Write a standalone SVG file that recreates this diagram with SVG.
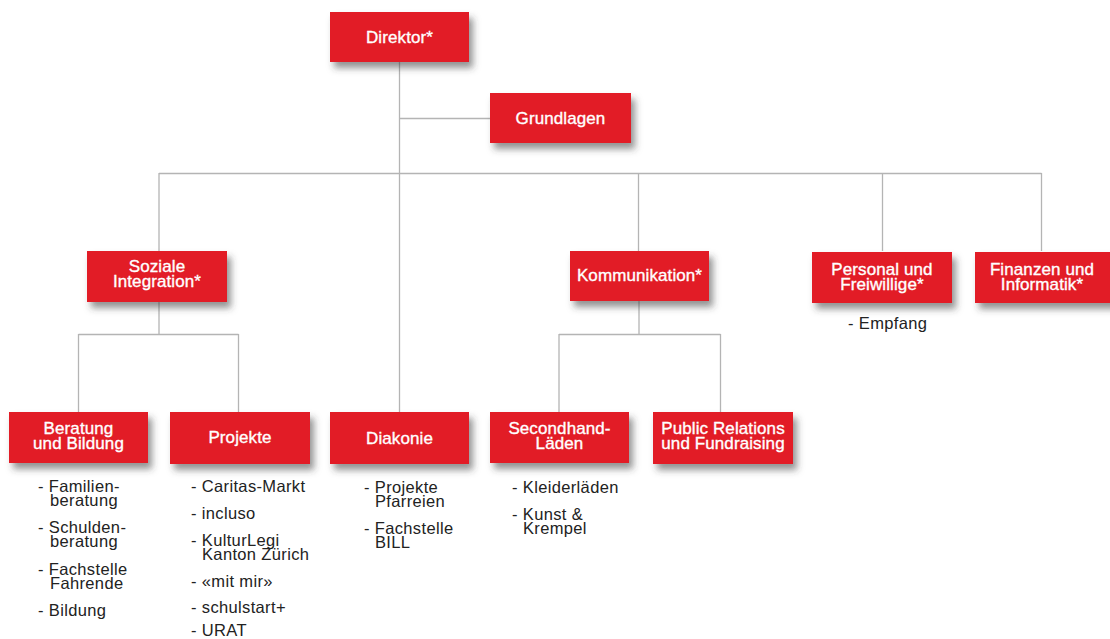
<svg xmlns="http://www.w3.org/2000/svg" width="1110" height="639" viewBox="0 0 1110 639">
<defs>
<filter id="sh" x="-20%" y="-20%" width="150%" height="170%">
<feDropShadow dx="4" dy="6" stdDeviation="3.5" flood-color="#3a3a3a" flood-opacity="0.55"/>
</filter>
<style>
.box{fill:#e21e27;filter:url(#sh)}
.bt{font-family:"Liberation Sans",Arial,sans-serif;font-size:17px;letter-spacing:0.1px;fill:#fff;stroke:#fff;stroke-width:0.35;text-anchor:middle}
.lt{font-family:"Liberation Sans",Arial,sans-serif;font-size:16.5px;letter-spacing:0.35px;fill:#222}
.ln{stroke:#b4b4b4;stroke-width:1.3;fill:none}
</style>
</defs>
<rect width="1110" height="639" fill="#fff"/>
<g id="connectors">
<path class="ln" d="M399.5 62V412M399.5 118.5H490M159 173.5H1041.5M159 173V251M638.5 173V251M882.5 173V251M1041.5 173V251"/>
<path class="ln" d="M159 302V334.5M78.5 334.5H238.5M78.5 334V412M238.5 334V412"/>
<path class="ln" d="M639 301V334.5M559 334.5H720.5M559 334V412M720.5 334V412"/>
</g>
<g id="direktor"><rect class="box" x="330" y="12" width="139" height="50"/><text class="bt" x="399.5" y="43">Direktor*</text></g>
<g id="grundlagen"><rect class="box" x="490" y="93" width="141" height="50"/><text class="bt" x="560.5" y="124">Grundlagen</text></g>
<g id="soziale"><rect class="box" x="87" y="251" width="140" height="51"/><text class="bt" x="157" y="272">Soziale<tspan x="157" dy="14.5">Integration*</tspan></text></g>
<g id="kommunikation"><rect class="box" x="570" y="251" width="139" height="50"/><text class="bt" x="639.5" y="281">Kommunikation*</text></g>
<g id="personal"><rect class="box" x="812" y="252" width="140" height="51"/><text class="bt" x="882" y="275">Personal und<tspan x="882" dy="14.5">Freiwillige*</tspan></text><text class="lt" x="848" y="329">- Empfang</text></g>
<g id="finanzen"><rect class="box" x="975" y="252" width="140" height="51"/><text class="bt" x="1042" y="275">Finanzen und<tspan x="1042" dy="14.5">Informatik*</tspan></text></g>
<g id="beratung"><rect class="box" x="9" y="412" width="139" height="51"/><text class="bt" x="78.5" y="434">Beratung<tspan x="78.5" dy="14.5">und Bildung</tspan></text>
<text class="lt" x="38" y="492">- Familien-<tspan x="50" dy="14">beratung</tspan></text>
<text class="lt" x="38" y="533">- Schulden-<tspan x="50" dy="14">beratung</tspan></text>
<text class="lt" x="38" y="575">- Fachstelle<tspan x="50" dy="14">Fahrende</tspan></text>
<text class="lt" x="38" y="616">- Bildung</text></g>
<g id="projekte"><rect class="box" x="170" y="412" width="140" height="52"/><text class="bt" x="240" y="443">Projekte</text>
<text class="lt" x="191" y="492">- Caritas-Markt</text>
<text class="lt" x="191" y="519">- incluso</text>
<text class="lt" x="191" y="546">- KulturLegi<tspan x="202" dy="14">Kanton Zürich</tspan></text>
<text class="lt" x="191" y="587">- «mit mir»</text>
<text class="lt" x="191" y="613">- schulstart+</text>
<text class="lt" x="191" y="636">- URAT</text></g>
<g id="diakonie"><rect class="box" x="330" y="412" width="139" height="52"/><text class="bt" x="399.5" y="444">Diakonie</text>
<text class="lt" x="364" y="493">- Projekte<tspan x="375" dy="14">Pfarreien</tspan></text>
<text class="lt" x="364" y="534">- Fachstelle<tspan x="375" dy="14">BILL</tspan></text></g>
<g id="secondhand"><rect class="box" x="490" y="412" width="139" height="51"/><text class="bt" x="559.5" y="434">Secondhand-<tspan x="559.5" dy="14.5">Läden</tspan></text>
<text class="lt" x="512" y="493">- Kleiderläden</text>
<text class="lt" x="512" y="520">- Kunst &amp;<tspan x="523" dy="14">Krempel</tspan></text></g>
<g id="public"><rect class="box" x="653" y="412" width="140" height="52"/><text class="bt" x="723" y="434">Public Relations<tspan x="723" dy="14.5">und Fundraising</tspan></text></g>
</svg>
